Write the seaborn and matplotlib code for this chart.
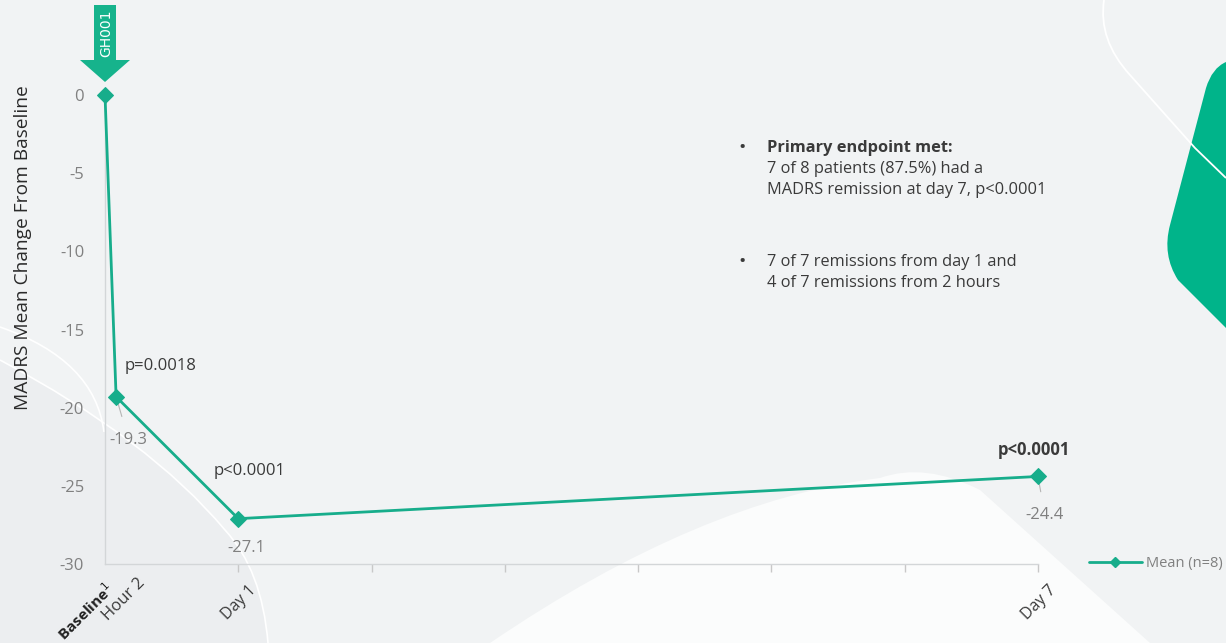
import numpy as np
import pandas as pd
import matplotlib
matplotlib.use("Agg")
import matplotlib.pyplot as plt
import seaborn as sns
import matplotlib.transforms as mtransforms
from matplotlib.path import Path
from matplotlib.patches import PathPatch, Polygon
from matplotlib.lines import Line2D

# ---------------- data ----------------
time_hours = [0, 2, 24, 168]
mean_change = [0.0, -19.3, -27.1, -24.4]
value_labels = ["", "-19.3", "-27.1", "-24.4"]
p_labels = ["", "p=0.0018", "p<0.0001", "p<0.0001"]
day_ticks = [1, 2, 3, 4, 5, 6, 7]
day_tick_labels = ["Day 1", "", "", "", "", "", "Day 7"]
y_ticks = [0, -5, -10, -15, -20, -25, -30]
series_name = "Mean (n=8)"
arrow_label = "GH001"
bullet1_title = "Primary endpoint met:"
bullet1_lines = ["7 of 8 patients (87.5%) had a", "MADRS remission at day 7, p<0.0001"]
bullet2_lines = ["7 of 7 remissions from day 1 and", "4 of 7 remissions from 2 hours"]

df = pd.DataFrame({"day": np.array(time_hours) / 24.0, "change": mean_change})

# ---------------- style ----------------
sns.set_theme(style="white")
plt.rcParams["font.family"] = ["Open Sans", "DejaVu Sans"]
GREEN = "#17ad8b"
BG = "#f1f3f4"
GRAY = "#808080"
DARK = "#3a3a3a"

W, H = 1226, 643
fig = plt.figure(figsize=(W / 100, H / 100), dpi=100, facecolor=BG)

def fp(x, y):
    return (x / W, 1 - y / H)

def curve(points, codes, **kw):
    fig.add_artist(PathPatch(Path([fp(*p) for p in points], codes),
                             transform=fig.transFigure, **kw))

M, C3, L, CL = Path.MOVETO, Path.CURVE3, Path.LINETO, Path.CLOSEPOLY

# ---------------- background decorations ----------------
# slightly darker lower-left region bounded by a white curve
curve([(0, 360), (150, 440), (225, 530), (262, 570), (268, 643), (0, 643), (0, 360)],
      [M, C3, C3, C3, C3, L, CL], facecolor="#eceef0", edgecolor="none", zorder=-10)
# white blob bottom-centre
curve([(490, 643), (700, 500), (880, 478), (925, 462), (980, 490), (1150, 643), (490, 643)],
      [M, C3, C3, C3, C3, L, CL], facecolor="#fbfcfc", edgecolor="none", zorder=-10)
# green shape right
curve([(1226, 62), (1212, 68), (1206, 88), (1170, 225), (1162, 255), (1178, 280),
       (1226, 328), (1226, 62)],
      [M, C3, C3, L, C3, C3, L, CL], facecolor="#00b48a", edgecolor="none", zorder=-9)
# thin white curves
curve([(1104, 0), (1098, 40), (1130, 75), (1195, 148), (1226, 178)],
      [M, C3, C3, L, L], facecolor="none", edgecolor="white", lw=1.3, zorder=-8)
curve([(0, 360), (150, 440), (225, 530), (262, 570), (268, 643)],
      [M, C3, C3, C3, C3], facecolor="none", edgecolor="white", lw=1.2, zorder=-8)
curve([(0, 327), (95, 360), (104, 432)],
      [M, C3, C3], facecolor="none", edgecolor="white", lw=1.2, zorder=-8)

# ---------------- axes ----------------
ax = fig.add_axes([105 / W, 1 - 564 / H, 933 / W, 469 / H])
ax.set_facecolor("none")
sns.lineplot(data=df, x="day", y="change", ax=ax, color=GREEN, linewidth=2.0,
             marker="D", markersize=8.5, markeredgecolor=GREEN, legend=False)
for ln in ax.lines:
    ln.set_clip_on(False)
    ln.set_zorder(4)
ax.set_xlim(0, 7)
ax.set_ylim(-30, 0)

ax.set_yticks(y_ticks)
ax.set_yticklabels([str(v) for v in y_ticks])
ax.tick_params(axis="y", length=0, pad=15, labelsize=12, labelcolor=GRAY)
ax.set_xticks(day_ticks)
ax.set_xticklabels(day_tick_labels, rotation=45, ha="right", rotation_mode="anchor")
ax.tick_params(axis="x", direction="out", length=6, width=1, color="#c8c8c8",
               pad=9, labelsize=11.5, labelcolor=DARK)
ax.xaxis.set_ticks_position("bottom")
for lbl in ax.get_xticklabels():
    lbl.set_transform(lbl.get_transform() + mtransforms.ScaledTranslation(7 / 72, 2 / 72, fig.dpi_scale_trans))

for s in ["top", "right"]:
    ax.spines[s].set_visible(False)
for s in ["left", "bottom"]:
    ax.spines[s].set_color("#d3d6d8")
    ax.spines[s].set_linewidth(1.0)

ax.set_xlabel("")
ax.set_ylabel("MADRS Mean Change From Baseline", fontsize=13.8, color="#2a2a2a")
ax.yaxis.set_label_coords(-0.078, 0.675)

# Baseline and Hour 2 labels (rotated like tick labels)
bt = mtransforms.blended_transform_factory(ax.transData, ax.transAxes)
off = lambda dx, dy: bt + mtransforms.ScaledTranslation(dx / 72, dy / 72, fig.dpi_scale_trans)
ax.text(df["day"][0], 0, "Baseline$^{1}$", transform=off(0, -11), rotation=45,
        ha="right", va="top", rotation_mode="anchor", fontsize=11, color="#222222",
        fontweight="bold")
ax.text(df["day"][1], 0, "Hour 2", transform=off(15, -8), rotation=45,
        ha="right", va="top", rotation_mode="anchor", fontsize=12, color=DARK)

# value labels with leader lines, p-values above
val_off = [None, (9, -31), (6, -21), (5, -28)]
p_off = [None, (6, 22), (-18, 34), (-3, 19)]
p_weight = ["normal", "normal", "normal", "bold"]
p_ha = ["left", "left", "left", "center"]
for i in range(1, 4):
    x, y = df["day"][i], df["change"][i]
    dx, dy = val_off[i]
    ax.annotate(value_labels[i], xy=(x, y), xytext=(dx, dy), textcoords="offset points",
                ha="center", va="center", fontsize=12, color=GRAY,
                arrowprops=dict(arrowstyle="-", color="#b5b5b5", lw=0.8,
                                shrinkA=9, shrinkB=0), annotation_clip=False)
    px_, py_ = p_off[i]
    ax.annotate(p_labels[i], xy=(x, y), xytext=(px_, py_), textcoords="offset points",
                ha=p_ha[i], va="center", fontsize=12, color=DARK,
                fontweight=p_weight[i], annotation_clip=False)

# ---------------- GH001 arrow ----------------
fig.canvas.draw()
px, py = ax.transData.transform((df["day"][0], df["change"][0]))
arrow = Polygon([(px, py + 13), (px - 25, py + 35), (px - 11, py + 35), (px - 11, py + 90),
                 (px + 11, py + 90), (px + 11, py + 35), (px + 25, py + 35)],
                closed=True, transform=None, facecolor="#16b38c", edgecolor="none", zorder=5)
fig.add_artist(arrow)
fig.text(px + 1, py + 62, arrow_label, transform=None, rotation=90, ha="center",
         va="center", color="white", fontsize=10, family="DejaVu Sans", zorder=6)

# ---------------- bullet text ----------------
fs = 11.8
fig.text(*fp(742, 148), "•", ha="center", va="center", fontsize=14, color=DARK)
fig.text(*fp(767, 148), bullet1_title, ha="left", va="center", fontsize=fs,
         color=DARK, fontweight="bold")
for k, line in enumerate(bullet1_lines):
    fig.text(*fp(767, 169 + 21 * k), line, ha="left", va="center", fontsize=fs, color=DARK)
fig.text(*fp(742, 262), "•", ha="center", va="center", fontsize=14, color=DARK)
for k, line in enumerate(bullet2_lines):
    fig.text(*fp(767, 262 + 21 * k), line, ha="left", va="center", fontsize=fs, color=DARK)

# ---------------- legend ----------------
handle = Line2D([0], [0], color=GREEN, lw=2.0, marker="D", markersize=5.5)
leg = fig.legend([handle], [series_name], loc="center left",
                 bbox_to_anchor=fp(1089, 564), frameon=False, fontsize=10.5,
                 handlelength=3.6, handletextpad=0.3, borderpad=0, borderaxespad=0)
for t in leg.get_texts():
    t.set_color(GRAY)

fig.savefig("out.png", dpi=100, facecolor=BG)
